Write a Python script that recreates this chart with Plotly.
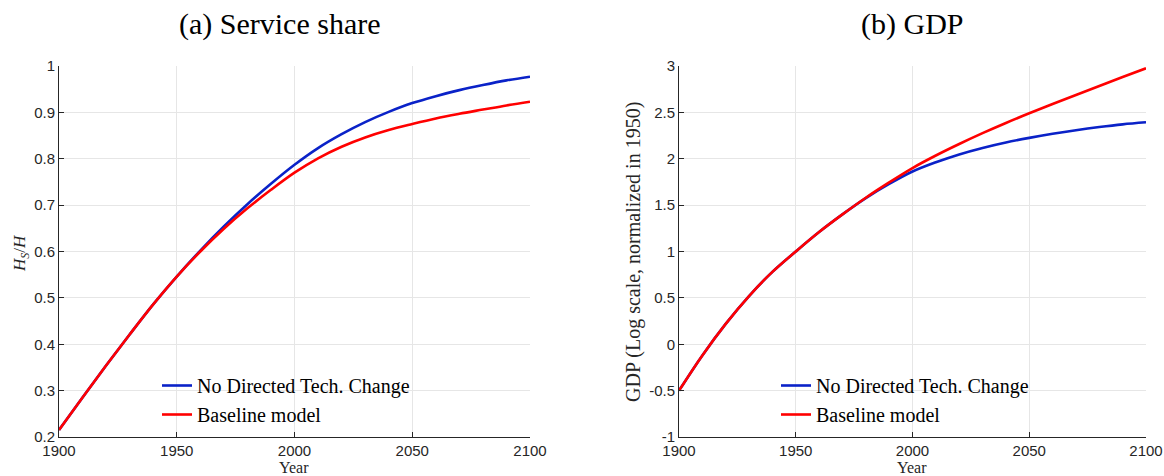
import plotly.graph_objects as go

years = [1900, 1910, 1920, 1930, 1940, 1950, 1960, 1970, 1980, 1990, 2000,
         2010, 2020, 2030, 2040, 2050, 2060, 2070, 2080, 2090, 2100]

share_no_dtc = [0.215, 0.285, 0.354, 0.421, 0.486, 0.546, 0.602, 0.654, 0.702, 0.746, 0.787,
                0.823, 0.853, 0.879, 0.901, 0.920, 0.935, 0.948, 0.959, 0.969, 0.977]
share_base = [0.215, 0.285, 0.354, 0.421, 0.486, 0.546, 0.600, 0.649, 0.693, 0.733, 0.770,
              0.801, 0.826, 0.846, 0.862, 0.875, 0.887, 0.897, 0.906, 0.915, 0.923]

gdp_no_dtc = [-0.50, -0.12, 0.22, 0.52, 0.78, 1.00, 1.21, 1.40, 1.575, 1.728, 1.862,
              1.962, 2.047, 2.117, 2.176, 2.225, 2.269, 2.308, 2.342, 2.371, 2.393]
gdp_base = [-0.50, -0.12, 0.22, 0.52, 0.78, 1.00, 1.21, 1.40, 1.58, 1.745, 1.90,
            2.035, 2.159, 2.276, 2.386, 2.49, 2.59, 2.688, 2.785, 2.881, 2.975]

series_names = ["No Directed Tech. Change", "Baseline model"]
titles = ["(a) Service share", "(b) GDP"]
x_ticks = [1900, 1950, 2000, 2050, 2100]
share_ticks = [0.2, 0.3, 0.4, 0.5, 0.6, 0.7, 0.8, 0.9, 1.0]
share_ticklabels = ["0.2", "0.3", "0.4", "0.5", "0.6", "0.7", "0.8", "0.9", "1"]
gdp_ticks = [-1, -0.5, 0, 0.5, 1, 1.5, 2, 2.5, 3]
gdp_ticklabels = ["-1", "-0.5", "0", "0.5", "1", "1.5", "2", "2.5", "3"]

BLUE = "#0a22c8"
RED = "#ff0000"
SERIF = "Liberation Serif, DejaVu Serif, serif"
SANS = "Liberation Sans, Arial, sans-serif"
TXT = "#262626"

W, H = 1164, 476
def px(x):
    return x / W
def py(y):
    return 1 - y / H

fig = go.Figure()
fig.add_trace(go.Scatter(x=years, y=share_no_dtc, mode="lines", name=series_names[0],
                         line=dict(color=BLUE, width=2.6, shape="spline", smoothing=1.0),
                         xaxis="x", yaxis="y", legend="legend"))
fig.add_trace(go.Scatter(x=years, y=share_base, mode="lines", name=series_names[1],
                         line=dict(color=RED, width=2.6, shape="spline", smoothing=1.0),
                         xaxis="x", yaxis="y", legend="legend"))
fig.add_trace(go.Scatter(x=years, y=gdp_no_dtc, mode="lines", name=series_names[0],
                         line=dict(color=BLUE, width=2.6, shape="spline", smoothing=1.0),
                         xaxis="x2", yaxis="y2", legend="legend2"))
fig.add_trace(go.Scatter(x=years, y=gdp_base, mode="lines", name=series_names[1],
                         line=dict(color=RED, width=2.6, shape="spline", smoothing=1.0),
                         xaxis="x2", yaxis="y2", legend="legend2"))

ydom = [py(437), py(66)]
axis_common = dict(showline=True, linecolor=TXT, linewidth=1, ticks="inside", ticklen=5,
                   tickcolor=TXT, showgrid=True, gridcolor="#e6e6e6", gridwidth=1,
                   zeroline=False, tickfont=dict(family=SANS, size=15, color=TXT), mirror=False)

legend_common = dict(xanchor="left", yanchor="top", bgcolor="rgba(0,0,0,0)", borderwidth=0,
                     font=dict(family=SERIF, size=20, color="black"))

fig.update_layout(
    width=W, height=H, autosize=False,
    paper_bgcolor="white", plot_bgcolor="white",
    margin=dict(l=0, r=0, t=0, b=0, autoexpand=False),
    xaxis=dict(domain=[px(59), px(530)], range=[1900, 2100], tickvals=x_ticks,
               anchor="y", **axis_common),
    yaxis=dict(domain=ydom, range=[0.2, 1.0], tickvals=share_ticks, ticktext=share_ticklabels,
               anchor="x", **axis_common),
    xaxis2=dict(domain=[px(679), px(1146)], range=[1900, 2100], tickvals=x_ticks,
                anchor="y2", **axis_common),
    yaxis2=dict(domain=ydom, range=[-1, 3], tickvals=gdp_ticks, ticktext=gdp_ticklabels,
                anchor="x2", **axis_common),
    legend=dict(x=px(157), y=py(366), **legend_common),
    legend2=dict(x=px(776), y=py(366), **legend_common),
    showlegend=True,
)

def ann(text, x, y, size, angle=0, color="black"):
    return dict(text=text, x=px(x), y=py(y), xref="paper", yref="paper",
                xanchor="center", yanchor="middle", showarrow=False, textangle=angle,
                font=dict(family=SERIF, size=size, color=color))

annotations = [
    ann(titles[0], 280, 24, 30),
    ann(titles[1], 912, 24, 30),
    ann("Year", 294, 467, 16, color=TXT),
    ann("Year", 912, 467, 16, color=TXT),
    ann("<i>H<sub>S</sub></i>/<i>H</i>", 21, 253, 17, angle=-90, color=TXT),
    ann("GDP (Log scale, normalized in 1950)", 633, 252, 20, angle=-90, color=TXT),
]
fig.update_layout(annotations=annotations)

fig.write_html("out.html")
